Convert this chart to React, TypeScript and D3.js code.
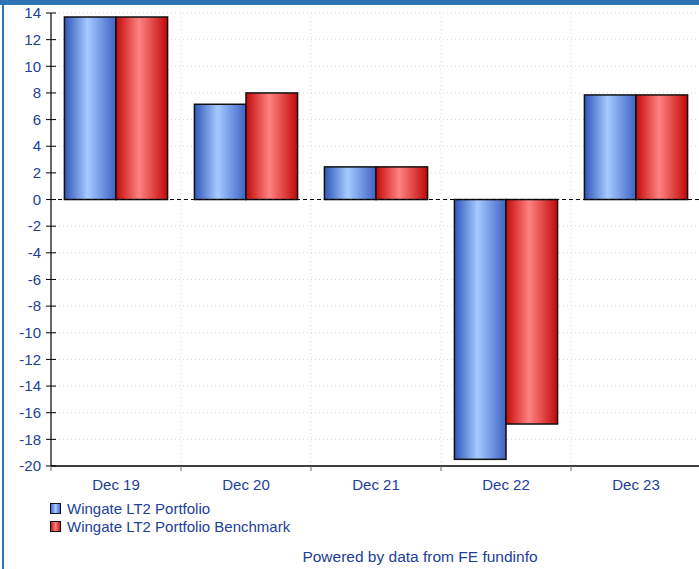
import * as d3 from "d3";

const categories = ["Dec 19", "Dec 20", "Dec 21", "Dec 22", "Dec 23"];
const seriesNames = ["Wingate LT2 Portfolio", "Wingate LT2 Portfolio Benchmark"];
const portfolio = [13.7, 7.15, 2.45, -19.5, 7.85];
const benchmark = [13.7, 8.0, 2.45, -16.85, 7.85];
const yTicks = d3.range(-20, 15, 2);

const width = 699;
const height = 569;
const marginLeft = 51;
const plotRight = 701;
const marginTop = 13;
const plotBottom = 466;
const textColor = "#22409a";
const font = "Arial, 'Liberation Sans', sans-serif";

export default function App() {
  const x = d3.scaleBand<string>().domain(categories).range([marginLeft, plotRight]);
  const inner = d3
    .scaleBand<number>()
    .domain([0, 1])
    .range([0, x.bandwidth()])
    .paddingOuter(0.26);
  const y = d3.scaleLinear().domain([-20, 14]).range([plotBottom, marginTop]);

  const series = [portfolio, benchmark];
  const fills = ["url(#gradBlue)", "url(#gradRed)"];

  return (
    <svg
      width={width}
      height={height}
      style={{ position: "absolute", left: 0, top: 0, background: "#fff" }}
      fontFamily={font}
    >
      <defs>
        <linearGradient id="gradBlue" x1="0" x2="1" y1="0" y2="0">
          <stop offset="0" stopColor="#2f56b8" />
          <stop offset="0.45" stopColor="#a6caff" />
          <stop offset="1" stopColor="#3d62c4" />
        </linearGradient>
        <linearGradient id="gradRed" x1="0" x2="1" y1="0" y2="0">
          <stop offset="0" stopColor="#c40a0a" />
          <stop offset="0.45" stopColor="#ff8282" />
          <stop offset="1" stopColor="#c10808" />
        </linearGradient>
        <linearGradient id="legBlue" x1="0" x2="1">
          <stop offset="0" stopColor="#3a62c8" />
          <stop offset="0.5" stopColor="#a6caff" />
          <stop offset="1" stopColor="#3a62c8" />
        </linearGradient>
        <linearGradient id="legRed" x1="0" x2="1">
          <stop offset="0" stopColor="#c40a0a" />
          <stop offset="0.5" stopColor="#ff8282" />
          <stop offset="1" stopColor="#c40a0a" />
        </linearGradient>
      </defs>

      {/* frame */}
      <rect x={0} y={0} width={width} height={5} fill="#2f74b5" />
      <rect x={2} y={0} width={2} height={height} fill="#2f74b5" />

      {/* gridlines */}
      <g stroke="#d8d8d8" strokeDasharray="1,3">
        {yTicks.map((t) => (
          <line key={t} x1={marginLeft} x2={plotRight} y1={y(t)} y2={y(t)} />
        ))}
        {categories.slice(1).map((c) => (
          <line key={c} x1={x(c)} x2={x(c)} y1={marginTop} y2={plotBottom} />
        ))}
      </g>

      {/* bars */}
      {categories.map((c, i) => (
        <g key={c} transform={`translate(${x(c)},0)`}>
          {series.map((s, j) => (
            <rect
              key={j}
              x={inner(j)}
              width={inner.bandwidth()}
              y={y(Math.max(0, s[i]))}
              height={Math.abs(y(s[i]) - y(0))}
              fill={fills[j]}
              stroke="#111"
              strokeWidth={1.5}
            />
          ))}
        </g>
      ))}

      {/* zero line */}
      <line
        x1={marginLeft}
        x2={plotRight}
        y1={y(0)}
        y2={y(0)}
        stroke="#000"
        strokeDasharray="4,3"
      />

      {/* y axis */}
      <line x1={marginLeft} x2={marginLeft} y1={marginTop} y2={plotBottom} stroke="#000" strokeWidth={1.2} />
      {yTicks.map((t) => (
        <g key={t}>
          <line x1={marginLeft - 5} x2={marginLeft + 5} y1={y(t)} y2={y(t)} stroke="#000" />
          <text
            x={marginLeft - 10}
            y={y(t)}
            dy="0.35em"
            textAnchor="end"
            fontSize={15}
            fill={textColor}
          >
            {t}
          </text>
        </g>
      ))}

      {/* x axis */}
      <line x1={marginLeft} x2={plotRight} y1={plotBottom} y2={plotBottom} stroke="#000" strokeWidth={1.5} />
      {categories.map((c) => (
        <g key={c}>
          <line x1={x(c)} x2={x(c)} y1={plotBottom} y2={plotBottom + 5} stroke="#666" />
          <text
            x={(x(c) ?? 0) + x.bandwidth() / 2}
            y={plotBottom + 19}
            dy="0.35em"
            textAnchor="middle"
            fontSize={15}
            fill={textColor}
          >
            {c}
          </text>
        </g>
      ))}

      {/* legend */}
      {seriesNames.map((n, i) => (
        <g key={n} transform={`translate(50,${503 + i * 18})`}>
          <rect x={0.5} y={0.5} width={10} height={10} fill={i === 0 ? "url(#legBlue)" : "url(#legRed)"} stroke="#111" />
          <text x={17} y={5.5} dy="0.35em" fontSize={15} fill={textColor}>
            {n}
          </text>
        </g>
      ))}

      <text x={420} y={557} dy="0.35em" textAnchor="middle" fontSize={15.5} fill={textColor}>
        Powered by data from FE fundinfo
      </text>
    </svg>
  );
}
